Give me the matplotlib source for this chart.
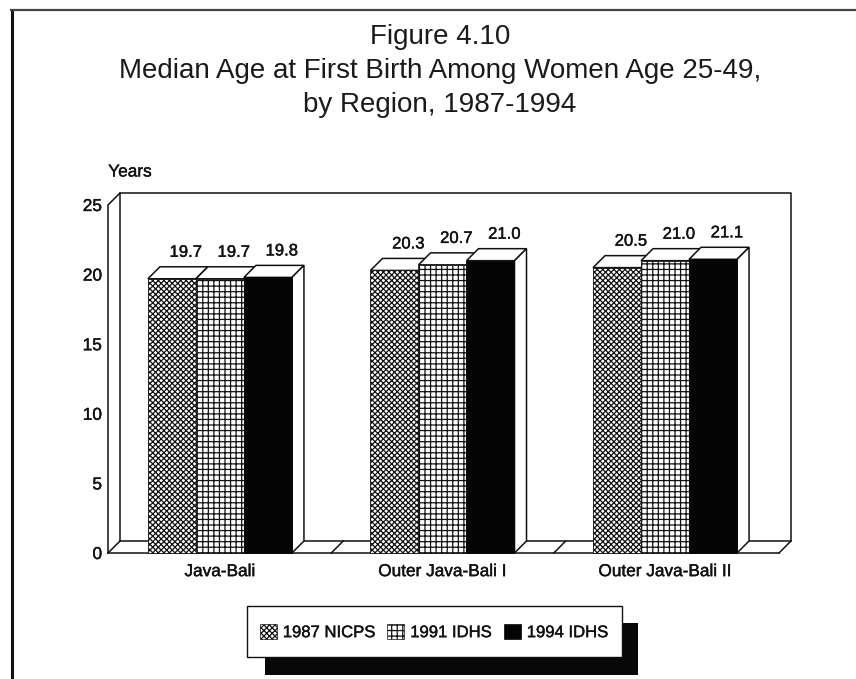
import matplotlib
matplotlib.use("Agg")
import matplotlib.pyplot as plt
import matplotlib.patheffects as pe
from matplotlib.patches import Polygon, Rectangle, Patch
from matplotlib.lines import Line2D

plt.rcParams['font.family'] = ['Liberation Sans', 'DejaVu Sans']
plt.rcParams['hatch.linewidth'] = 0.9

regions = ['Java-Bali', 'Outer Java-Bali I', 'Outer Java-Bali II']
series_names = ['1987 NICPS', '1991 IDHS', '1994 IDHS']
nicps_1987 = [19.7, 20.3, 20.5]
idhs_1991 = [19.7, 20.7, 21.0]
idhs_1994 = [19.8, 21.0, 21.1]
y_ticks = [0, 5, 10, 15, 20, 25]

W, H = 856, 679
fig = plt.figure(figsize=(W / 100, H / 100), dpi=100, facecolor='white')
L, R, B, T = 108, 779, 553, 205
ax = fig.add_axes([L / W, 1 - B / H, (R - L) / W, (B - T) / H])
xmin, xmax = -0.503, 2.512
ax.set_xlim(xmin, xmax)
ax.set_ylim(0, 25)
for s in ax.spines.values():
    s.set_visible(False)
ax.patch.set_alpha(0)

px = (xmax - xmin) / (R - L)
py = 25 / (B - T)
dx, dy = 12 * px, 12 * py
LW = 1.1
ink = '#111111'
thick = [pe.withStroke(linewidth=0.3, foreground='#111111')]


def seg(xs, ys, lw=LW, z=1):
    ax.add_line(Line2D(xs, ys, color=ink, lw=lw, clip_on=False, zorder=z))


# walls and floor of the 3-D frame
seg([xmin, xmin, xmin + dx, xmax + dx, xmax + dx, xmax], [0, 25, 25 + dy, 25 + dy, dy, 0])
seg([xmin + dx, xmin + dx], [dy, 25 + dy])
seg([xmin, xmax], [0, 0])
seg([xmin + dx, xmax + dx], [dy, dy])
seg([xmin, xmin + dx], [0, dy])
seg([0.5, 0.5 + dx], [0, dy])
seg([1.5, 1.5 + dx], [0, dy])

bar_w = 48 * px
styles = [
    dict(facecolor='white', edgecolor='#111111', hatch='xxxxxx'),
    dict(facecolor='white', edgecolor='#111111', hatch='+++'),
    dict(facecolor='#050505', edgecolor='#050505'),
]
all_values = [nicps_1987, idhs_1991, idhs_1994]
for i, (vals, st) in enumerate(zip(all_values, styles)):
    pos = [g + (i - 1) * bar_w for g in range(len(regions))]
    ax.bar(pos, vals, width=bar_w, linewidth=0.6, zorder=3 + i * 2, clip_on=False, **st)
    for x, v in zip(pos, vals):
        x0, x1 = x - bar_w / 2, x + bar_w / 2
        ax.add_patch(Polygon([(x0, v), (x0 + dx, v + dy), (x1 + dx, v + dy), (x1, v)],
                             fc='white', ec=ink, lw=LW, zorder=2 + i * 2, clip_on=False))
        ax.add_patch(Polygon([(x1, 0), (x1, v), (x1 + dx, v + dy), (x1 + dx, dy)],
                             fc='white', ec=ink, lw=LW, zorder=2 + i * 2, clip_on=False))
        ax.annotate(f'{v:.1f}', (x + dx * 1.15, v + dy), xytext=(0, 5), textcoords='offset points',
                    ha='center', va='bottom', fontsize=12, color='#111111', zorder=20,
                    path_effects=thick)

ax.set_xticks(range(len(regions)), regions)
ax.set_yticks(y_ticks)
ax.tick_params(axis='both', length=0, labelsize=12.4, labelcolor='#111111')
ax.tick_params(axis='x', pad=8)
ax.tick_params(axis='y', pad=4.3)
for lab in ax.get_xticklabels() + ax.get_yticklabels():
    lab.set_path_effects(thick)

fig.text(130 / W, 1 - 172 / H, 'Years', ha='center', va='center', fontsize=12.4,
         color='#111111', path_effects=thick)

title = 'Figure 4.10\nMedian Age at First Birth Among Women Age 25-49,\nby Region, 1987-1994'
fig.text(440 / W, 1 - 71 / H, title, ha='center', va='center', fontsize=20,
         linespacing=1.41, color='#1a1a1a')

# page frame
fig.add_artist(Line2D([12 / W, 12 / W], [0, 1 - 10 / H], color='#111111', lw=2.2))
fig.add_artist(Line2D([11 / W, 1], [1 - 10 / H, 1 - 10 / H], color='#444444', lw=1.6))

# legend box and shadow
fig.add_artist(Rectangle((265 / W, 1 - 675 / H), (638 - 265) / W, (675 - 623) / H,
                         transform=fig.transFigure, fc='#080808', ec='none', zorder=1))
fig.add_artist(Rectangle((247 / W, 1 - 657 / H), (622 - 247) / W, (657 - 606) / H,
                         transform=fig.transFigure, fc='white', ec='#111111', lw=1.0, zorder=2))
handles = [Patch(label=n, linewidth=0.5, **st) for n, st in zip(series_names, styles)]
leg = fig.legend(handles=handles, ncol=3, loc='center',
                 bbox_to_anchor=(434 / W, 1 - 632 / H),
                 frameon=False, fontsize=12, handlelength=1.02, handleheight=1.02,
                 handletextpad=0.36, columnspacing=0.72, borderaxespad=0, borderpad=0)
leg.set_zorder(5)
for t in leg.get_texts():
    t.set_color('#111111')
    t.set_path_effects(thick)

fig.savefig('out.png', dpi=100)
